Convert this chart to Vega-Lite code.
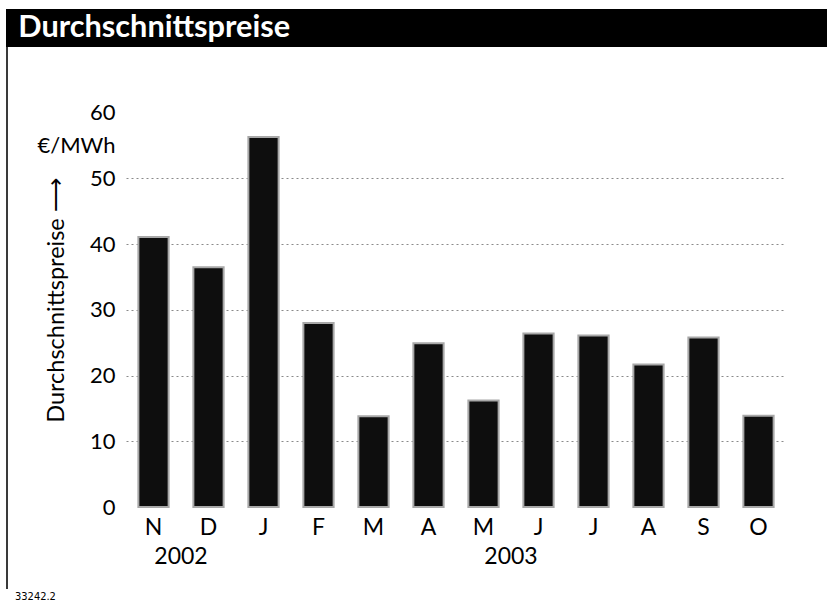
{
  "$schema": "https://vega.github.io/schema/vega-lite/v6.json",
  "padding": {"left": 6, "top": 9, "right": 0, "bottom": 0},
  "background": "white",
  "config": {
    "view": {"stroke": null},
    "font": "Lato",
    "axis": {"labelFont": "Lato", "titleFont": "Lato"},
    "header": {"labelFont": "Lato"}
  },
  "datasets": {
    "preise": [
      {"Jahr": "2002", "Monat": "November 2002", "Nr": 1, "Preis": 41.1},
      {"Jahr": "2002", "Monat": "Dezember 2002", "Nr": 2, "Preis": 36.5},
      {"Jahr": "2003", "Monat": "Januar 2003", "Nr": 3, "Preis": 56.3},
      {"Jahr": "2003", "Monat": "Februar 2003", "Nr": 4, "Preis": 28.0},
      {"Jahr": "2003", "Monat": "März 2003", "Nr": 5, "Preis": 13.8},
      {"Jahr": "2003", "Monat": "April 2003", "Nr": 6, "Preis": 24.9},
      {"Jahr": "2003", "Monat": "Mai 2003", "Nr": 7, "Preis": 16.2},
      {"Jahr": "2003", "Monat": "Juni 2003", "Nr": 8, "Preis": 26.4},
      {"Jahr": "2003", "Monat": "Juli 2003", "Nr": 9, "Preis": 26.1},
      {"Jahr": "2003", "Monat": "August 2003", "Nr": 10, "Preis": 21.7},
      {"Jahr": "2003", "Monat": "September 2003", "Nr": 11, "Preis": 25.8},
      {"Jahr": "2003", "Monat": "Oktober 2003", "Nr": 12, "Preis": 13.9}
    ]
  },
  "spacing": 0,
  "vconcat": [
    {
      "width": 821,
      "height": 38,
      "view": {"fill": "black", "stroke": null},
      "data": {"values": [{"titel": "Durchschnittspreise"}]},
      "mark": {"type": "text", "align": "left", "baseline": "middle", "color": "white", "font": "Lato", "fontSize": 30.7, "fontWeight": "bold"},
      "encoding": {
        "x": {"datum": 0.015, "type": "quantitative", "scale": {"domain": [0, 1]}, "axis": null},
        "text": {"field": "titel"}
      }
    },
    {
      "spacing": 28,
      "hconcat": [
        {
          "width": 2,
          "height": 542,
          "view": {"fill": "#3a3a3a", "stroke": null},
          "data": {"values": [{}]},
          "mark": {"type": "text", "text": ""},
          "encoding": {}
        },
        {
          "data": {"name": "preise"},
          "spacing": 0,
          "facet": {
            "column": {
              "field": "Jahr",
              "type": "ordinal",
              "header": {"title": null, "labelOrient": "bottom", "labelFont": "Lato", "labelFontSize": 23, "labelColor": "black", "labelPadding": 7}
            }
          },
          "resolve": {"scale": {"x": "independent"}},
          "spec": {
            "width": {"step": 55},
            "height": 460,
            "mark": {"type": "bar", "fill": "#0e0e0e", "stroke": "#a8a8a8", "strokeWidth": 2},
            "encoding": {
              "x": {
                "field": "Monat",
                "type": "nominal",
                "sort": {"field": "Nr"},
                "scale": {"paddingInner": 0.45, "paddingOuter": 0.225},
                "axis": {"title": null, "labelExpr": "substring(datum.label, 0, 1)", "labelAngle": 0, "ticks": false, "tickSize": 0, "domain": false, "labelFontSize": 23, "labelColor": "black", "labelPadding": 9}
              },
              "y": {
                "field": "Preis",
                "type": "quantitative",
                "scale": {"domain": [0, 70], "nice": false},
                "axis": {
                  "title": "Durchschnittspreise ⟶",
                  "values": [0, 10, 20, 30, 40, 50, 55, 60],
                  "labelExpr": "datum.value == 55 ? '€/MWh' : datum.label",
                  "domain": false,
                  "ticks": false,
                  "tickSize": 0,
                  "labelFontSize": 22,
                  "labelPadding": 11,
                  "labelColor": "black",
                  "gridColor": "#8a8a8a",
                  "gridDash": [2, 3],
                  "gridOpacity": {"condition": {"test": "datum.value >= 10 && datum.value <= 50", "value": 1}, "value": 0},
                  "titleFontSize": 23.5,
                  "titleFontWeight": "normal",
                  "titleColor": "black",
                  "titleX": -63,
                  "titleY": 253,
                  "titleBaseline": "alphabetic"
                }
              }
            }
          }
        }
      ]
    },
    {
      "width": 60,
      "height": 16,
      "data": {"values": [{"kennung": "33242.2"}]},
      "mark": {"type": "text", "align": "left", "baseline": "middle", "font": "DejaVu Sans Condensed", "fontSize": 11, "color": "black"},
      "encoding": {
        "x": {"datum": 0.15, "type": "quantitative", "scale": {"domain": [0, 1]}, "axis": null},
        "text": {"field": "kennung"}
      }
    }
  ]
}
